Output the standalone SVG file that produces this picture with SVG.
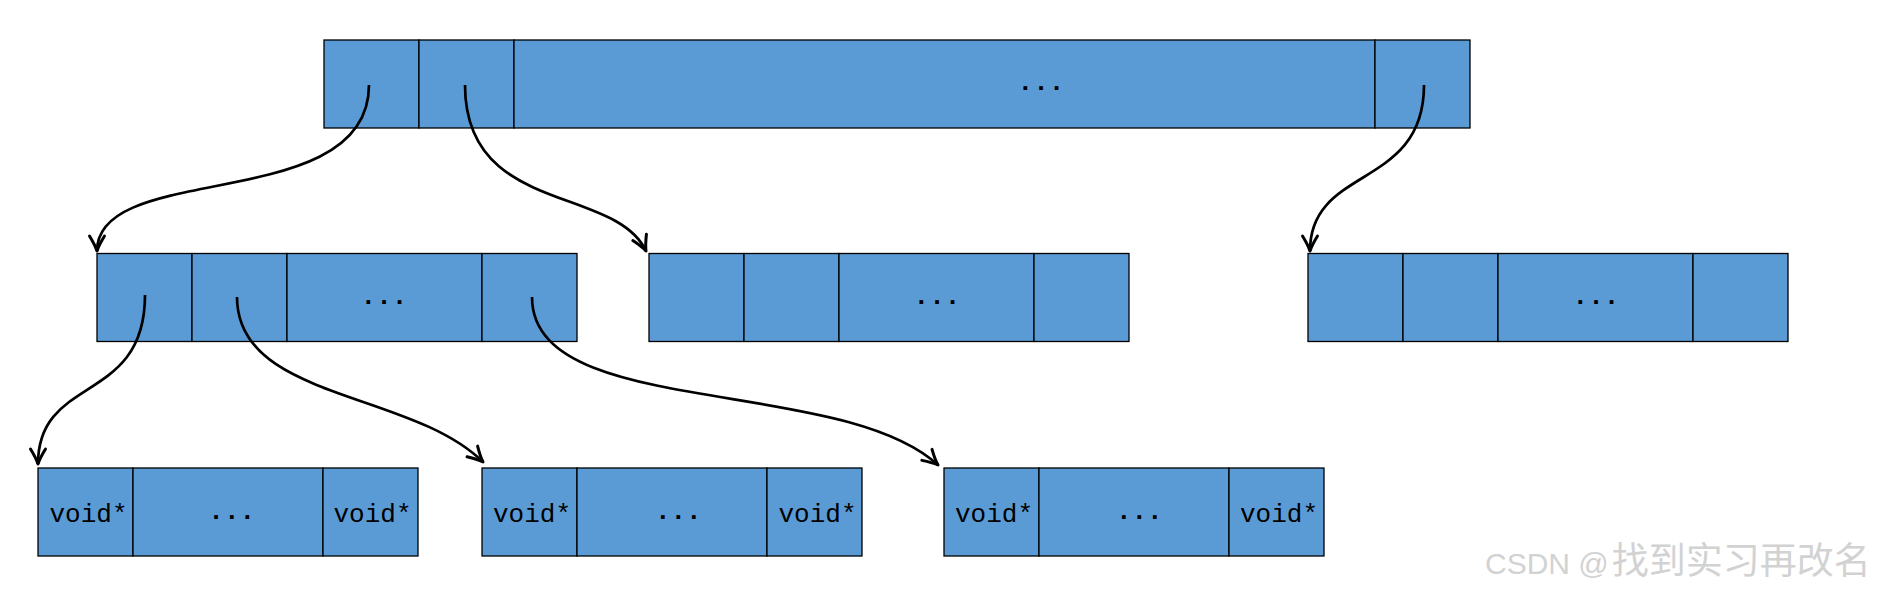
<svg xmlns="http://www.w3.org/2000/svg" width="1880" height="596" viewBox="0 0 1880 596">
<style>
.cell{fill:#5B9BD5;stroke:#000;stroke-width:1.3}
.lbl{font-family:"Liberation Mono","DejaVu Sans Mono",monospace;font-size:26px;fill:#000;text-anchor:middle}
.dots{font-family:"Liberation Mono","DejaVu Sans Mono",monospace;font-size:26px;font-weight:bold;fill:#000;text-anchor:middle}
.conn{fill:none;stroke:#000;stroke-width:2.7;marker-end:url(#arr)}
.wm{font-family:"Liberation Sans","Noto Sans CJK SC",sans-serif;fill:#d2d2d2}
</style>
<defs>
<marker id="arr" markerUnits="userSpaceOnUse" markerWidth="20" markerHeight="20" refX="0" refY="0" orient="auto" overflow="visible">
<path d="M-15,-7.5 Q-6,-2 0,0 Q-6,2 -15,7.5" fill="none" stroke="#000" stroke-width="3" stroke-linecap="round" stroke-linejoin="round"/>
</marker>
</defs>
<rect width="1880" height="596" fill="#fff"/>
<g id="root">
<rect class="cell" x="324" y="40" width="95" height="88"/>
<rect class="cell" x="419" y="40" width="95" height="88"/>
<rect class="cell" x="514" y="40" width="861" height="88"/>
<rect class="cell" x="1375" y="40" width="95" height="88"/>
<text class="dots" x="1041" y="90">...</text>
</g>
<g id="nodeA">
<rect class="cell" x="97" y="253.5" width="95" height="88"/>
<rect class="cell" x="192" y="253.5" width="95" height="88"/>
<rect class="cell" x="287" y="253.5" width="195" height="88"/>
<rect class="cell" x="482" y="253.5" width="95" height="88"/>
<text class="dots" x="384" y="304">...</text>
</g>
<g id="nodeB">
<rect class="cell" x="649" y="253.5" width="95" height="88"/>
<rect class="cell" x="744" y="253.5" width="95" height="88"/>
<rect class="cell" x="839" y="253.5" width="195" height="88"/>
<rect class="cell" x="1034" y="253.5" width="95" height="88"/>
<text class="dots" x="937" y="303.5">...</text>
</g>
<g id="nodeC">
<rect class="cell" x="1308" y="253.5" width="95" height="88"/>
<rect class="cell" x="1403" y="253.5" width="95" height="88"/>
<rect class="cell" x="1498" y="253.5" width="195" height="88"/>
<rect class="cell" x="1693" y="253.5" width="95" height="88"/>
<text class="dots" x="1596" y="303.5">...</text>
</g>
<g id="nodeD">
<rect class="cell" x="38" y="468" width="95" height="88"/>
<rect class="cell" x="133" y="468" width="190" height="88"/>
<rect class="cell" x="323" y="468" width="95" height="88"/>
<text class="lbl" x="88.5" y="522">void*</text>
<text class="dots" x="231.7" y="518.5">...</text>
<text class="lbl" x="372.5" y="522">void*</text>
</g>
<g id="nodeE">
<rect class="cell" x="482" y="468" width="95" height="88"/>
<rect class="cell" x="577" y="468" width="190" height="88"/>
<rect class="cell" x="767" y="468" width="95" height="88"/>
<text class="lbl" x="532" y="522">void*</text>
<text class="dots" x="678.3" y="518.5">...</text>
<text class="lbl" x="817.5" y="522">void*</text>
</g>
<g id="nodeF">
<rect class="cell" x="944" y="468" width="95" height="88"/>
<rect class="cell" x="1039" y="468" width="190" height="88"/>
<rect class="cell" x="1229" y="468" width="95" height="88"/>
<text class="lbl" x="994" y="522">void*</text>
<text class="dots" x="1139.3" y="518.5">...</text>
<text class="lbl" x="1279" y="522">void*</text>
</g>
<g id="connectors">
<path class="conn" d="M369,85 C369,215 97,160 97,251"/>
<path class="conn" d="M465,85 C465,215 615,185 646,251"/>
<path class="conn" d="M1424,85 C1424,190 1310,165 1310,251"/>
<path class="conn" d="M145,295 C145,405 38,374 38,464"/>
<path class="conn" d="M237,297 C237,400 410,390 483,462"/>
<path class="conn" d="M532,297 C532,420 840,375 938,465"/>
</g>
<text class="wm" x="1485" y="574"><tspan font-size="30">CSDN @</tspan><tspan font-size="37" font-family="'Noto Sans CJK SC',sans-serif" dx="3">找到实习再改名</tspan></text>
</svg>
